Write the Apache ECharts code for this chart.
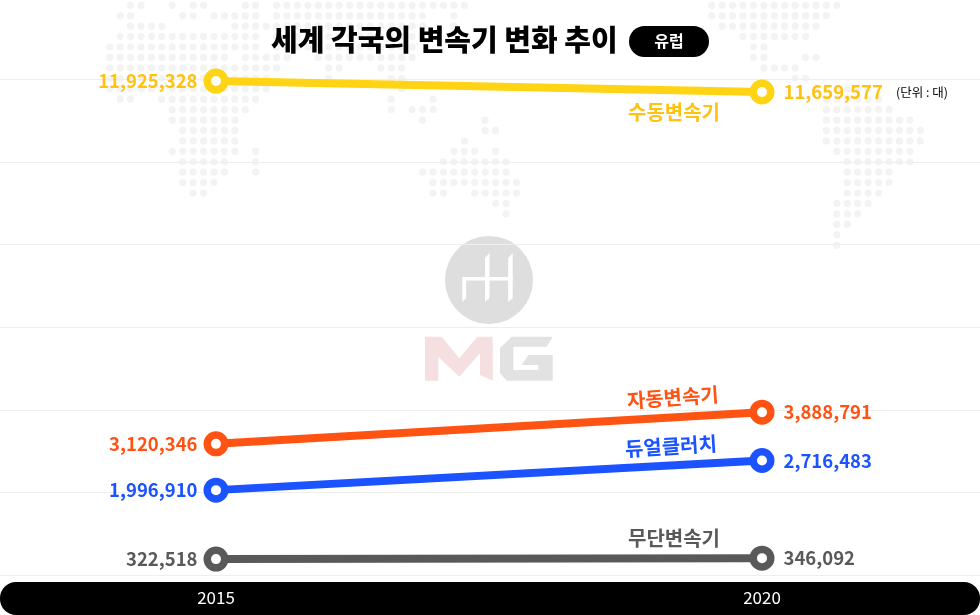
<!DOCTYPE html>
<html>
<head>
<meta charset="utf-8">
<style>
  html, body { margin: 0; padding: 0; background: #fff; }
  #chart { width: 980px; height: 615px; }
</style>
<script src="https://cdn.jsdelivr.net/npm/echarts@6/dist/echarts.min.js"></script>
</head>
<body>
<div id="chart"></div>
<script>
const years = ["2015", "2020"];
const manual = [11925328, 11659577];
const automatic = [3120346, 3888791];
const dualClutch = [1996910, 2716483];
const cvt = [322518, 346092];
const seriesNames = ["수동변속기", "자동변속기", "듀얼클러치", "무단변속기"];

// world map behind the chart, one string of dot columns per row
const mapWest = [
  "2-3 6 8-9 13-14 16-34", "1-2 7-8 10-14 16-30 33", "2-5 12-15 16-30 33", "1-14 16-29",
  "0-14 16-29", "0-11 13-17 20-29", "0-16 21-22 26-28", "0-15 21 27-28",
  "0-15 28", "1-2 5-14 27 31", "6-13 27 29-31", "6-12 30 36",
  "7-12 36-37", "7-12 34", "6-12 14 33-35 37", "7-11 14 32-38",
  "7-11 14 30-38", "7-10 31-39", "8-9 31-32 35-39", "37-38", "38"
];
const mapEast = [
  "0-12", "0-11", "1-10", "3-9", "4-5", "4-5 9-10", "5-8", "8-9",
  "10-15", "11-16", "11-17", "11-19", "11-20", "11-20", "12-19", "13-19",
  "13-17", "13-17", "13-16", "12-15", "12-14", "12-13", "12", "12"
];

function mapDots(rows, x0) {
  const dots = [];
  rows.forEach((row, r) => {
    row.split(" ").forEach((part) => {
      const ends = part.split("-").map(Number);
      const last = ends.length > 1 ? ends[1] : ends[0];
      for (let c = ends[0]; c <= last; c++) {
        dots.push({
          type: "circle",
          silent: true,
          z: -10,
          shape: { cx: x0 + c * 10.43, cy: 5.3 + r * 10.43, r: 3.6 },
          style: { fill: "#f3f3f3" },
        });
      }
    });
  });
  return dots;
}

function poly(points, fill, z) {
  return { type: "polygon", silent: true, z: z, shape: { points: points }, style: { fill: fill } };
}

const cjk = '"Noto Sans CJK KR", sans-serif';

const graphic = mapDots(mapWest, 109.7).concat(mapDots(mapEast, 711.7)).concat([
  // logo
  { type: "circle", silent: true, z: -9, shape: { cx: 489, cy: 280, r: 44 }, style: { fill: "#dedede" } },
  poly([[462.3, 277], [512.7, 277], [512.7, 280.5], [466.2, 280.5], [466.2, 298], [462.3, 302]], "#fff", -8),
  poly([[489.5, 253], [489.5, 298], [485, 302], [485, 258]], "#fff", -8),
  poly([[512.7, 253], [512.7, 298], [508.2, 302], [508.2, 258]], "#fff", -8),
  poly([[425, 336.7], [441.7, 336.7], [459.3, 358.3], [477.3, 336.7], [492.7, 336.7], [492.7, 380.7], [480, 375], [480, 353], [459.3, 376.7], [438.3, 356.7], [438.3, 380.7], [425, 380.7]], "#f6dfe1", -8),
  poly([[500, 348], [511.7, 336.7], [552.7, 336.7], [546.7, 346.7], [513.3, 346.7], [513.3, 370], [538.3, 370], [538.3, 365], [521.7, 365], [528.3, 355], [552.7, 355], [552.7, 380.7], [506.7, 380.7], [500, 373.3]], "#e2e2e2", -8),
  // black bar under the axis
  { type: "rect", silent: true, z: -5, shape: { x: 0, y: 582, width: 980, height: 33, r: 16 }, style: { fill: "#000" } },
  // title and pill
  { type: "text", silent: true, style: { x: 271, y: 40, text: "세계 각국의 변속기 변화 추이", fill: "#000", font: '900 29px ' + cjk, textVerticalAlign: "middle" } },
  { type: "rect", silent: true, shape: { x: 629, y: 26, width: 80, height: 31, r: 15.5 }, style: { fill: "#000" } },
  { type: "text", silent: true, style: { x: 669, y: 41, text: "유럽", fill: "#fff", font: '700 16px ' + cjk, textAlign: "center", textVerticalAlign: "middle" } },
  { type: "text", silent: true, style: { x: 896, y: 92, text: "(단위 : 대)", fill: "#000", font: '400 12.5px ' + cjk, textVerticalAlign: "middle" } },
]);

function lineSeries(name, values, lineColor, textColor, nameOffset, nameRotate) {
  return {
    name: name,
    type: "line",
    xAxisIndex: 1,
    yAxisIndex: 1,
    symbol: "circle",
    symbolSize: 17.5,
    showSymbol: true,
    lineStyle: { color: lineColor, width: 8 },
    itemStyle: { color: "#fff", borderColor: lineColor, borderWidth: 7.5 },
    data: values.map((v, i) => ({
      value: v,
      label: {
        show: true,
        position: i === 0 ? "left" : "right",
        distance: i === 0 ? 6 : 9,
        formatter: (p) => p.value.toLocaleString("en-US"),
        color: textColor,
        fontFamily: cjk,
        fontWeight: 700,
        fontSize: 18.5,
      },
    })),
    markPoint: {
      silent: true,
      symbol: "circle",
      symbolSize: 1,
      itemStyle: { color: "transparent" },
      data: [{
        coord: [years[1], values[1]],
        label: {
          show: true,
          position: "inside",
          formatter: name,
          offset: nameOffset,
          rotate: nameRotate,
          color: textColor,
          fontFamily: cjk,
          fontWeight: 700,
          fontSize: 20,
        },
      }],
    },
  };
}

const option = {
  animation: false,
  backgroundColor: "#fff",
  graphic: graphic,
  grid: [
    { left: 0, right: 0, top: 79.5, height: 495.6 },
    { left: 216, width: 546, top: 78, height: 494.4 },
  ],
  xAxis: [
    { gridIndex: 0, type: "category", data: years, show: false },
    {
      gridIndex: 1,
      type: "category",
      data: years,
      boundaryGap: false,
      axisLine: { show: false },
      axisTick: { show: false },
      axisLabel: { color: "#fff", fontFamily: cjk, fontSize: 17, margin: 17 },
    },
  ],
  yAxis: [
    {
      gridIndex: 0,
      type: "value",
      min: 0,
      max: 12000000,
      interval: 2000000,
      axisLine: { show: false },
      axisTick: { show: false },
      axisLabel: { show: false },
      splitLine: { show: true, lineStyle: { color: "#eeeeee", width: 1 } },
    },
    { gridIndex: 1, type: "value", min: 0, max: 12000000, show: false },
  ],
  series: [
    lineSeries(seriesNames[0], manual, "#ffd414", "#ffc20e", [-88, 20], 0),
    lineSeries(seriesNames[1], automatic, "#ff5314", "#ff5314", [-88, -21], 4),
    lineSeries(seriesNames[2], dualClutch, "#1a53ff", "#1a53ff", [-90, -20], 3.5),
    lineSeries(seriesNames[3], cvt, "#595959", "#595959", [-88, -20], 0),
  ],
};

var myChart = echarts.init(document.getElementById("chart"));
myChart.setOption(option);
</script>
</body>
</html>
